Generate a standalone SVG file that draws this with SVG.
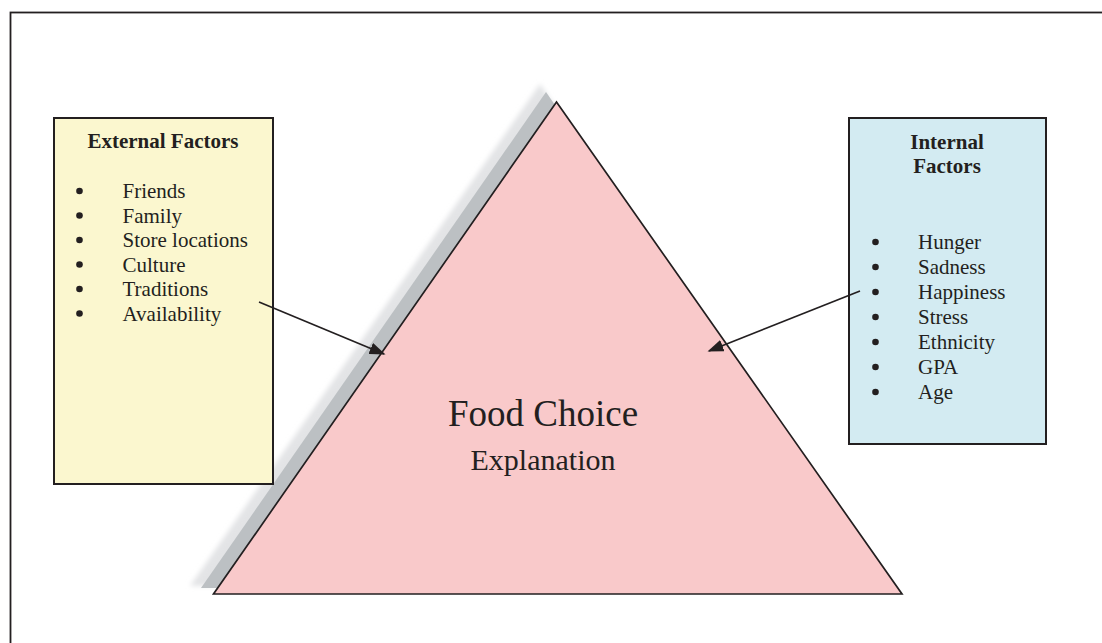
<svg xmlns="http://www.w3.org/2000/svg" width="1102" height="643" viewBox="0 0 1102 643">
<defs>
<style>
.box{stroke:#231f20;stroke-width:2}
.t{font-family:"Liberation Serif","Times New Roman",serif;fill:#231f20}
.h{font-size:21px;font-weight:bold;text-anchor:middle}
.li{font-size:21px}
.conn{stroke:#231f20;stroke-width:1.7;fill:none}
</style>
<marker id="ah" viewBox="0 0 10 10" refX="9" refY="5" markerWidth="16" markerHeight="12" markerUnits="userSpaceOnUse" orient="auto" preserveAspectRatio="none">
<path d="M0,0 L10,5 L0,10 Z" fill="#231f20"/>
</marker>
<filter id="blur" x="-10%" y="-10%" width="120%" height="120%"><feGaussianBlur stdDeviation="2.5"/></filter>
</defs>
<rect x="0" y="0" width="1102" height="643" fill="#ffffff"/>
<rect x="10.5" y="12.5" width="1110" height="660" fill="none" stroke="#231f20" stroke-width="1.8"/>

<g id="triangle">
<polygon points="540,84 190,586 876,586" fill="#e3e4e6" filter="url(#blur)"/>
<polygon points="546,92 201,588 886,588" fill="#bcc0c3"/>
<polygon points="556.5,102 213.5,594 902,594" fill="#f9c9ca" stroke="#231f20" stroke-width="1.7" stroke-linejoin="miter"/>
<text class="t" x="543" y="426" font-size="37" text-anchor="middle">Food Choice</text>
<text class="t" x="543" y="470" font-size="30" text-anchor="middle">Explanation</text>
</g>

<g id="external">
<rect class="box" x="54" y="118" width="219" height="366" fill="#fbf7cf"/>
<text class="t h" x="163" y="148">External Factors</text>
<g class="t li">
<circle cx="79.5" cy="191" r="3.3"/><text x="122.5" y="198">Friends</text>
<circle cx="79.5" cy="215.5" r="3.3"/><text x="122.5" y="222.5">Family</text>
<circle cx="79.5" cy="240" r="3.3"/><text x="122.5" y="247">Store locations</text>
<circle cx="79.5" cy="264.5" r="3.3"/><text x="122.5" y="271.5">Culture</text>
<circle cx="79.5" cy="289" r="3.3"/><text x="122.5" y="296">Traditions</text>
<circle cx="79.5" cy="313.5" r="3.3"/><text x="122.5" y="320.5">Availability</text>
</g>
</g>

<g id="internal">
<rect class="box" x="849" y="118" width="197" height="326" fill="#d3ebf2"/>
<text class="t h" x="947" y="149">Internal</text>
<text class="t h" x="947" y="173">Factors</text>
<g class="t li">
<circle cx="875.5" cy="242" r="3.3"/><text x="918" y="249">Hunger</text>
<circle cx="875.5" cy="267" r="3.3"/><text x="918" y="274">Sadness</text>
<circle cx="875.5" cy="292" r="3.3"/><text x="918" y="299">Happiness</text>
<circle cx="875.5" cy="317" r="3.3"/><text x="918" y="324">Stress</text>
<circle cx="875.5" cy="342" r="3.3"/><text x="918" y="349">Ethnicity</text>
<circle cx="875.5" cy="367" r="3.3"/><text x="918" y="374">GPA</text>
<circle cx="875.5" cy="392" r="3.3"/><text x="918" y="399">Age</text>
</g>
</g>

<g id="connectors">
<line class="conn" x1="259" y1="302" x2="384" y2="354" marker-end="url(#ah)"/>
<line class="conn" x1="860" y1="291" x2="709" y2="351" marker-end="url(#ah)"/>
</g>
</svg>
